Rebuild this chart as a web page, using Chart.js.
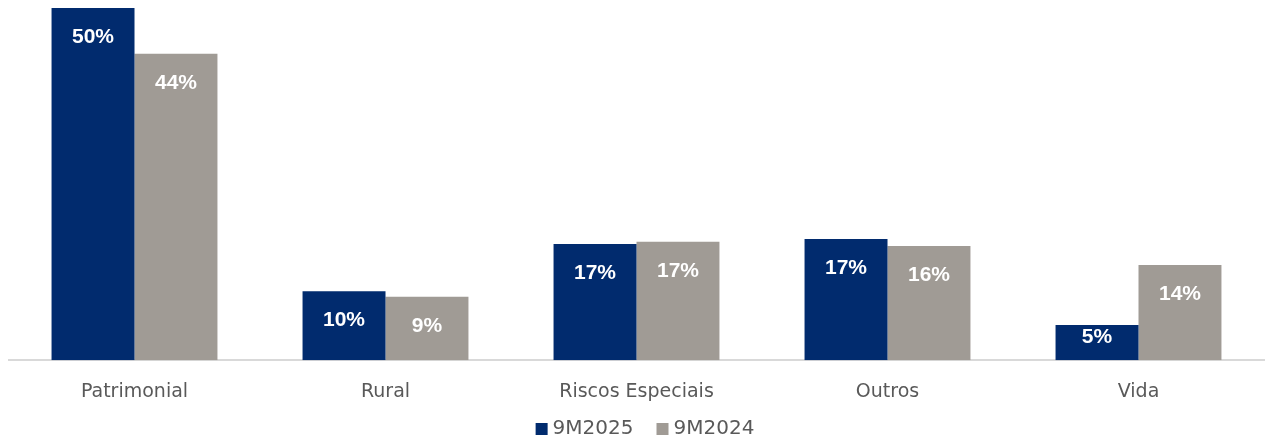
<!DOCTYPE html>
<html>
<head>
<meta charset="utf-8">
<script src="https://cdn.jsdelivr.net/npm/chart.js@4.4.1/dist/chart.umd.min.js"></script>
<style>
    html, body { margin: 0; padding: 0; background: #fff; }
    #wrap { width: 1267px; height: 441px; position: relative; }
</style>
</head>
<body>
<div id="wrap"><canvas id="mixChart"></canvas></div>
<script>
// product lines and share of premiums (%)
const categories = ['Patrimonial', 'Rural', 'Riscos Especiais', 'Outros', 'Vida'];
const share2025 = [50.0, 9.8, 16.5, 17.2, 5.0];
const share2024 = [43.5, 9.0, 16.8, 16.2, 13.5];
const seriesNames = ['9M2025', '9M2024'];

const NAVY = '#012b6e';
const GREY = '#a09b95';
const TEXT = '#595959';
const FONT = '"DejaVu Sans", "Noto Sans", sans-serif';

// white percentage inside the top of every bar (kept inside short bars)
const insideLabels = {
    id: 'insideLabels',
    afterDatasetsDraw(chart) {
        const ctx = chart.ctx;
        ctx.save();
        ctx.font = 'bold 21px "Liberation Sans", Arial, sans-serif';
        ctx.fillStyle = '#ffffff';
        ctx.textAlign = 'center';
        ctx.textBaseline = 'middle';
        chart.data.datasets.forEach((ds, i) => {
            chart.getDatasetMeta(i).data.forEach((bar, j) => {
                const y = Math.min(bar.y + 29, bar.base - 23);
                ctx.fillText(Math.round(ds.data[j]) + '%', bar.x, y);
            });
        });
        ctx.restore();
    }
};

// compact legend row under the axis labels (square swatch + name)
const bottomLegend = {
    id: 'bottomLegend',
    afterDraw(chart) {
        const ctx = chart.ctx;
        const box = 12, gap = 5, spacing = 23;
        ctx.save();
        ctx.font = '20px ' + FONT;
        ctx.textBaseline = 'middle';
        const items = chart.data.datasets.map(ds => ({
            text: ds.label, color: ds.backgroundColor, w: ctx.measureText(ds.label).width
        }));
        const total = items.reduce((s, it) => s + box + gap + it.w, 0) + spacing * (items.length - 1);
        let x = 645 - total / 2;
        const y = chart.height - 12;
        items.forEach(it => {
            ctx.fillStyle = it.color;
            ctx.fillRect(x, y - box / 2, box, box);
            x += box + gap;
            ctx.fillStyle = TEXT;
            ctx.fillText(it.text, x, y);
            x += it.w + spacing;
        });
        ctx.restore();
    }
};

document.addEventListener('DOMContentLoaded', () => {
    const ctx = document.getElementById('mixChart').getContext('2d');
    new Chart(ctx, {
        type: 'bar',
        data: {
            labels: categories,
            datasets: [{
                label: seriesNames[0],
                data: share2025,
                backgroundColor: NAVY
            }, {
                label: seriesNames[1],
                data: share2024,
                backgroundColor: GREY
            }]
        },
        options: {
            responsive: true,
            maintainAspectRatio: false,
            animation: false,
            layout: { padding: { left: 9, right: 3, top: 8, bottom: 26 } },
            datasets: {
                bar: { categoryPercentage: 0.661, barPercentage: 1.0 }
            },
            plugins: {
                tooltip: { enabled: false },
                legend: { display: false }
            },
            scales: {
                y: { display: false, min: 0, max: 50 },
                x: {
                    grid: { display: false },
                    border: { display: true, color: '#d9d9d9', width: 2 },
                    ticks: {
                        color: TEXT,
                        padding: 12,
                        font: { size: 19, family: FONT }
                    }
                }
            }
        },
        plugins: [insideLabels, bottomLegend]
    });
});
</script>
</body>
</html>
